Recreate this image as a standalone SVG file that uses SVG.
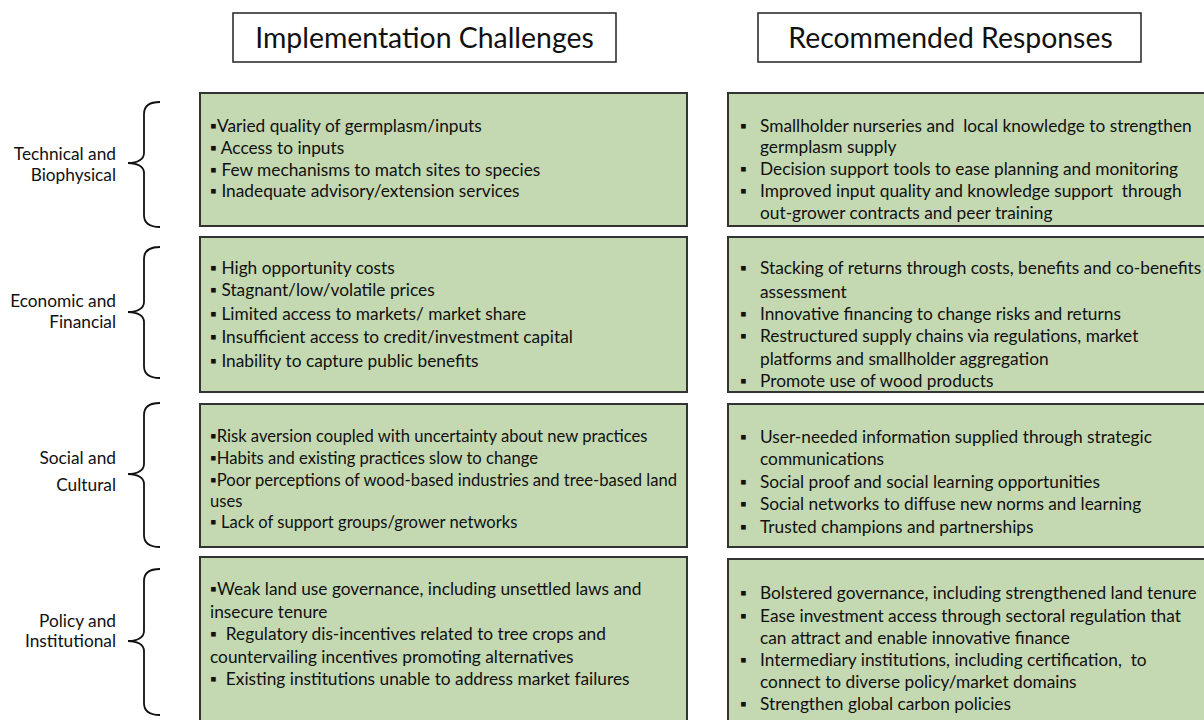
<svg xmlns="http://www.w3.org/2000/svg" width="1204" height="720" viewBox="0 0 1204 720">
<style>
  .hdr { fill:#ffffff; stroke:#222; stroke-width:1.5; }
  .htxt { font-family:Lato, "Open Sans", sans-serif; font-size:28.4px; fill:#111; text-anchor:middle; }
  .box { fill:#c4d8b1; stroke:#333; stroke-width:2; }
  .t { font-family:Lato, "Open Sans", sans-serif; font-size:17.3px; fill:#111; white-space:pre; }
  .s { font-size:16.6px; }
  .lbl { font-family:Lato, "Open Sans", sans-serif; font-size:17.3px; fill:#111; text-anchor:end; }
  .brace { fill:none; stroke:#111; stroke-width:1.8; }
</style>
<rect width="1204" height="720" fill="#ffffff"/>

<g id="header-challenges">
  <rect class="hdr" x="233" y="13" width="383" height="49"/>
  <text class="htxt" x="424.5" y="48">Implementation Challenges</text>
</g>
<g id="header-responses">
  <rect class="hdr" x="758" y="13" width="383" height="49"/>
  <text class="htxt" x="950.5" y="48">Recommended Responses</text>
</g>

<g id="label-technical">
  <text class="lbl" x="116" y="160">Technical and</text>
  <text class="lbl" x="116" y="181">Biophysical</text>
</g>
<g id="label-economic">
  <text class="lbl" x="116" y="307">Economic and</text>
  <text class="lbl" x="116" y="328">Financial</text>
</g>
<g id="label-social">
  <text class="lbl" x="116" y="464">Social and</text>
  <text class="lbl" x="116" y="491">Cultural</text>
</g>
<g id="label-policy">
  <text class="lbl" x="116" y="627">Policy and</text>
  <text class="lbl" x="116" y="647">Institutional</text>
</g>

<g id="connectors">
  <path class="brace" d="M160,102 C150,102 144,106 144,114 L144,153 C144,159 138,163 128,163 C138,163 144,167 144,173 L144,215 C144,223 150,227 160,227"/>
  <path class="brace" d="M160,247 C150,247 144,251 144,259 L144,302 C144,308 138,312 128,312 C138,312 144,316 144,322 L144,366 C144,374 150,378 160,378"/>
  <path class="brace" d="M160,403 C150,403 144,407 144,415 L144,464 C144,470 138,474 128,474 C138,474 144,478 144,484 L144,535 C144,543 150,547 160,547"/>
  <path class="brace" d="M160,569 C150,569 144,573 144,581 L144,631 C144,637 138,641 128,641 C138,641 144,645 144,651 L144,703 C144,711 150,715 160,715"/>
</g>

<g id="challenges-technical">
  <rect class="box" x="200" y="93" width="487" height="133"/>
  <text class="t" x="210" y="132">▪Varied quality of germplasm/inputs</text>
  <text class="t" x="210" y="154">▪ Access to inputs</text>
  <text class="t" x="210" y="176">▪ Few mechanisms to match sites to species</text>
  <text class="t" x="210" y="197">▪ Inadequate advisory/extension services</text>
</g>
<g id="challenges-economic">
  <rect class="box" x="200" y="237" width="487" height="155"/>
  <text class="t" x="210" y="274">▪ High opportunity costs</text>
  <text class="t" x="210" y="296">▪ Stagnant/low/volatile prices</text>
  <text class="t" x="210" y="320">▪ Limited access to markets/ market share</text>
  <text class="t" x="210" y="343">▪ Insufficient access to credit/investment capital</text>
  <text class="t" x="210" y="367">▪ Inability to capture public benefits</text>
</g>
<g id="challenges-social">
  <rect class="box" x="200" y="404" width="487" height="143"/>
  <text class="t s" x="210" y="442">▪Risk aversion coupled with uncertainty about new practices</text>
  <text class="t s" x="210" y="464">▪Habits and existing practices slow to change</text>
  <text class="t s" x="210" y="486">▪Poor perceptions of wood-based industries and tree-based land</text>
  <text class="t s" x="210" y="507">uses</text>
  <text class="t s" x="210" y="528">▪ Lack of support groups/grower networks</text>
</g>
<g id="challenges-policy">
  <rect class="box" x="200" y="557" width="487" height="175"/>
  <text class="t" x="210" y="595">▪Weak land use governance, including unsettled laws and</text>
  <text class="t" x="210" y="618">insecure tenure</text>
  <text class="t" x="210" y="640">▪  Regulatory dis-incentives related to tree crops and</text>
  <text class="t" x="210" y="663">countervailing incentives promoting alternatives</text>
  <text class="t" x="210" y="685">▪  Existing institutions unable to address market failures</text>
</g>

<g id="responses-technical">
  <rect class="box" x="728" y="93" width="500" height="133"/>
  <text class="t" x="740" y="132">▪</text><text class="t" x="760" y="132">Smallholder nurseries and  local knowledge to strengthen</text>
  <text class="t" x="760" y="153">germplasm supply</text>
  <text class="t" x="740" y="175">▪</text><text class="t" x="760" y="175">Decision support tools to ease planning and monitoring</text>
  <text class="t" x="740" y="197">▪</text><text class="t" x="760" y="197">Improved input quality and knowledge support  through</text>
  <text class="t" x="760" y="219">out-grower contracts and peer training</text>
</g>
<g id="responses-economic">
  <rect class="box" x="728" y="237" width="500" height="155"/>
  <text class="t" x="740" y="274">▪</text><text class="t" x="760" y="274">Stacking of returns through costs, benefits and co-benefits</text>
  <text class="t" x="760" y="298">assessment</text>
  <text class="t" x="740" y="320">▪</text><text class="t" x="760" y="320">Innovative financing to change risks and returns</text>
  <text class="t" x="740" y="342">▪</text><text class="t" x="760" y="342">Restructured supply chains via regulations, market</text>
  <text class="t" x="760" y="365">platforms and smallholder aggregation</text>
  <text class="t" x="740" y="387">▪</text><text class="t" x="760" y="387">Promote use of wood products</text>
</g>
<g id="responses-social">
  <rect class="box" x="728" y="404" width="500" height="143"/>
  <text class="t" x="740" y="443">▪</text><text class="t" x="760" y="443">User-needed information supplied through strategic</text>
  <text class="t" x="760" y="465">communications</text>
  <text class="t" x="740" y="488">▪</text><text class="t" x="760" y="488">Social proof and social learning opportunities</text>
  <text class="t" x="740" y="510">▪</text><text class="t" x="760" y="510">Social networks to diffuse new norms and learning</text>
  <text class="t" x="740" y="533">▪</text><text class="t" x="760" y="533">Trusted champions and partnerships</text>
</g>
<g id="responses-policy">
  <rect class="box" x="728" y="559" width="500" height="175"/>
  <text class="t" x="740" y="599">▪</text><text class="t" x="760" y="599">Bolstered governance, including strengthened land tenure</text>
  <text class="t" x="740" y="622">▪</text><text class="t" x="760" y="622">Ease investment access through sectoral regulation that</text>
  <text class="t" x="760" y="644">can attract and enable innovative finance</text>
  <text class="t" x="740" y="666">▪</text><text class="t" x="760" y="666">Intermediary institutions, including certification,  to</text>
  <text class="t" x="760" y="688">connect to diverse policy/market domains</text>
  <text class="t" x="740" y="710">▪</text><text class="t" x="760" y="710">Strengthen global carbon policies</text>
</g>
</svg>
